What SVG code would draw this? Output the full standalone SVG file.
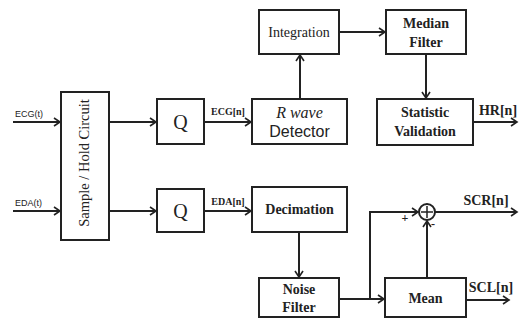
<svg xmlns="http://www.w3.org/2000/svg" width="521" height="327" viewBox="0 0 521 327">
<style>
.box{fill:#fff;stroke:#222;stroke-width:2}
.ln{fill:none;stroke:#222;stroke-width:2;marker-end:url(#ar)}
.s{font-family:"Liberation Serif",serif;fill:#222;text-anchor:middle}
.b{font-weight:bold}
.a{font-family:"Liberation Sans",sans-serif;fill:#222}
</style>
<defs>
<marker id="ar" markerWidth="10" markerHeight="10" refX="8" refY="5" orient="auto" markerUnits="userSpaceOnUse">
<polyline points="2,1 8,5 2,9" fill="none" stroke="#222" stroke-width="1.6"/>
</marker>
</defs>
<g id="connectors">
<line class="ln" x1="13" y1="122" x2="60" y2="122"/>
<line class="ln" x1="13" y1="211" x2="60" y2="211"/>
<line class="ln" x1="109" y1="122" x2="156" y2="122"/>
<line class="ln" x1="109" y1="211" x2="156" y2="211"/>
<line class="ln" x1="204" y1="122" x2="251" y2="122"/>
<line class="ln" x1="204" y1="211" x2="251" y2="211"/>
<line class="ln" x1="300" y1="99" x2="300" y2="55"/>
<line class="ln" x1="339" y1="32" x2="385" y2="32"/>
<line class="ln" x1="426" y1="54" x2="426" y2="98"/>
<line class="ln" x1="473" y1="122" x2="517" y2="122"/>
<line class="ln" x1="299" y1="232" x2="299" y2="277"/>
<line class="ln" x1="339" y1="299" x2="384" y2="299"/>
<polyline class="ln" points="370,299 370,212 418,212"/>
<line class="ln" x1="427" y1="278" x2="427" y2="221"/>
<line class="ln" x1="435" y1="212" x2="517" y2="212"/>
<line class="ln" x1="466" y1="300" x2="509" y2="300"/>
</g>
<g id="labels">
<text class="a" x="15" y="117" font-size="9">ECG(t)</text>
<text class="a" x="15" y="206" font-size="9">EDA(t)</text>
<text class="s b" x="228" y="115" font-size="10">ECG[n]</text>
<text class="s b" x="228" y="205" font-size="10">EDA[n]</text>
<text class="s b" x="498" y="115" font-size="14">HR[n]</text>
<text class="s b" x="486" y="205" font-size="14">SCR[n]</text>
<text class="s b" x="491" y="292" font-size="14">SCL[n]</text>
<text class="s b" x="405" y="222" font-size="12">+</text>
<text class="s b" x="433" y="228" font-size="12">-</text>
</g>
<g id="sample-hold">
<rect class="box" x="61" y="92" width="48" height="148"/>
<text class="s" transform="translate(89,163) rotate(-90)" font-size="14.5">Sample / Hold Circuit</text>
</g>
<g id="q-ecg">
<rect class="box" x="157" y="99" width="47" height="45"/>
<text class="s" x="180.5" y="129" font-size="20">Q</text>
</g>
<g id="q-eda">
<rect class="box" x="157" y="189" width="47" height="43"/>
<text class="s" x="180.5" y="218" font-size="20">Q</text>
</g>
<g id="rwave">
<rect class="box" x="252" y="99" width="95" height="45"/>
<text class="s" x="299.5" y="118" font-size="16" font-style="italic">R wave</text>
<text class="a" x="299.5" y="137" font-size="16" text-anchor="middle">Detector</text>
</g>
<g id="integration">
<rect class="box" x="259" y="10" width="80" height="44"/>
<text class="s" x="299" y="37" font-size="14">Integration</text>
</g>
<g id="median">
<rect class="box" x="386" y="10" width="80" height="44"/>
<text class="s b" x="426" y="28" font-size="14">Median</text>
<text class="s b" x="426" y="47" font-size="14">Filter</text>
</g>
<g id="statistic">
<rect class="box" x="377" y="99" width="96" height="46"/>
<text class="s b" x="425" y="117" font-size="14">Statistic</text>
<text class="s b" x="425" y="136" font-size="14">Validation</text>
</g>
<g id="decimation">
<rect class="box" x="252" y="187" width="95" height="45"/>
<text class="s b" x="299.5" y="214" font-size="14">Decimation</text>
</g>
<g id="noise">
<rect class="box" x="259" y="278" width="80" height="39"/>
<text class="s b" x="299" y="294" font-size="14">Noise</text>
<text class="s b" x="299" y="312" font-size="14">Filter</text>
</g>
<g id="mean">
<rect class="box" x="385" y="278" width="81" height="39"/>
<text class="s b" x="425.5" y="303" font-size="14">Mean</text>
</g>
<g id="sum">
<circle cx="427" cy="212" r="8" fill="#fff" stroke="#222" stroke-width="2"/>
<line x1="421" y1="212" x2="433" y2="212" stroke="#222" stroke-width="1.5"/>
<line x1="427" y1="206" x2="427" y2="218" stroke="#222" stroke-width="1.5"/>
</g>
</svg>
